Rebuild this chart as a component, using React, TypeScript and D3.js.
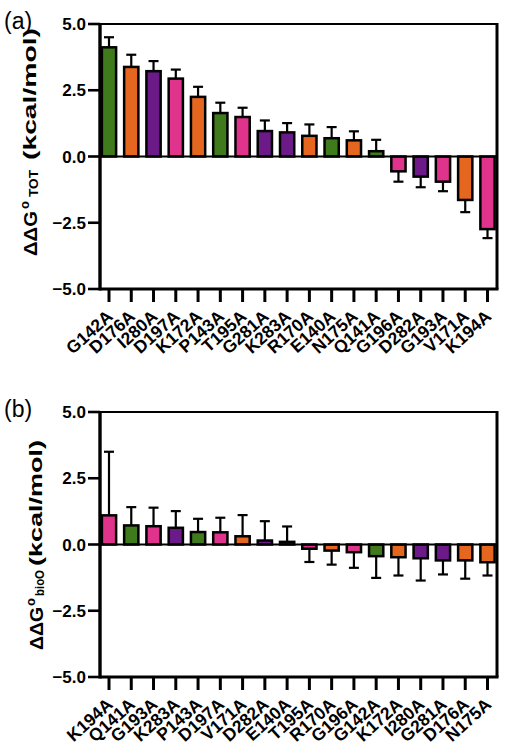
import React from "react";
import * as d3 from "d3";

const GREEN = "#3f7a1c";
const ORANGE = "#e5661f";
const PURPLE = "#6b1a88";
const PINK = "#e0338b";

const colorOf: Record<string, string> = {
  G142A: GREEN, P143A: GREEN, E140A: GREEN, Q141A: GREEN,
  D176A: ORANGE, K172A: ORANGE, R170A: ORANGE, N175A: ORANGE, V171A: ORANGE,
  I280A: PURPLE, G281A: PURPLE, K283A: PURPLE, D282A: PURPLE,
  D197A: PINK, T195A: PINK, G196A: PINK, G193A: PINK, K194A: PINK,
};

const catsA = ["G142A","D176A","I280A","D197A","K172A","P143A","T195A","G281A","K283A","R170A","E140A","N175A","Q141A","G196A","D282A","G193A","V171A","K194A"];
const valsA = [4.12, 3.38, 3.22, 2.94, 2.25, 1.64, 1.49, 0.96, 0.91, 0.78, 0.69, 0.61, 0.2, -0.56, -0.76, -0.95, -1.64, -2.74];
const errsA = [0.38, 0.46, 0.38, 0.34, 0.38, 0.39, 0.35, 0.4, 0.35, 0.43, 0.42, 0.34, 0.43, 0.39, 0.4, 0.36, 0.46, 0.34];

const catsB = ["K194A","Q141A","G193A","K283A","P143A","D197A","V171A","D282A","E140A","T195A","R170A","G196A","G142A","K172A","I280A","G281A","D176A","N175A"];
const valsB = [1.1, 0.72, 0.69, 0.63, 0.47, 0.46, 0.31, 0.15, 0.1, -0.16, -0.23, -0.29, -0.44, -0.48, -0.52, -0.6, -0.6, -0.67];
const errsB = [2.4, 0.69, 0.7, 0.63, 0.5, 0.55, 0.8, 0.73, 0.58, 0.5, 0.53, 0.59, 0.82, 0.69, 0.84, 0.53, 0.69, 0.5];

const yTicks = [5.0, 2.5, 0.0, -2.5, -5.0];

const FONT = "Liberation Sans, Arial, sans-serif";

type TitleLayout = { bx: number; dg: [number, number]; deg: [number, number]; sub: [number, number]; unit: [number, number] };

function VText({ x, y0, y1, size, children, weight = "bold" }: any) {
  return (
    <g transform={`translate(${x},${y0}) rotate(-90)`}>
      <text x={0} y={0} fontFamily={FONT} fontWeight={weight} fontSize={size}
        textLength={y0 - y1} lengthAdjust="spacingAndGlyphs">{children}</text>
    </g>
  );
}

function Panel({ label, sub, cats, vals, errs, top, bottom, tl }: {
  label: string; sub: string; cats: string[]; vals: number[]; errs: number[]; top: number; bottom: number; tl: TitleLayout;
}) {
  const left = 100, right = 497;
  const x = d3.scalePoint<string>().domain(cats).range([109, 487.5]);
  const y = d3.scaleLinear().domain([-5, 5]).range([bottom, top]);
  const bw = x.step() * 0.64;
  const cap = 10;
  return (
    <g>
      <text x={4} y={top + 5} fontFamily={FONT} fontSize={23}>{label}</text>
      {cats.map((c, i) => {
        const v = vals[i];
        const y0 = y(0), y1 = y(v);
        const ye = y(v + Math.sign(v) * errs[i]);
        const cx = x(c) as number;
        return (
          <g key={c}>
            <line x1={cx} x2={cx} y1={y1} y2={ye} stroke="#000" strokeWidth={2.2} />
            <line x1={cx - cap / 2} x2={cx + cap / 2} y1={ye} y2={ye} stroke="#000" strokeWidth={2.2} />
            <rect x={cx - bw / 2} y={Math.min(y0, y1)} width={bw} height={Math.abs(y1 - y0)}
              fill={colorOf[c]} stroke="#000" strokeWidth={2.5} />
          </g>
        );
      })}
      <line x1={left} x2={right} y1={y(0)} y2={y(0)} stroke="#000" strokeWidth={1.8} />
      <line x1={left} x2={right} y1={top} y2={top} stroke="#000" strokeWidth={2.2} />
      <line x1={right} x2={right} y1={top - 1} y2={bottom} stroke="#000" strokeWidth={3} />
      <line x1={left} x2={right + 1.5} y1={bottom} y2={bottom} stroke="#000" strokeWidth={3.2} />
      <line x1={left} x2={left} y1={top - 1} y2={bottom + 1.6} stroke="#000" strokeWidth={3.4} />
      {yTicks.map((t) => (
        <g key={t}>
          <line x1={left - 12} x2={left} y1={y(t)} y2={y(t)} stroke="#000" strokeWidth={2.6} />
          <text x={left - 14} y={y(t)} dy="0.36em" textAnchor="end" fontFamily={FONT}
            fontWeight="bold" fontSize={17}>{d3.format(".1f")(t)}</text>
        </g>
      ))}
      {cats.map((c) => {
        const cx = x(c) as number;
        return (
          <g key={"t" + c}>
            <line x1={cx} x2={cx} y1={bottom} y2={bottom + 13} stroke="#000" strokeWidth={3} />
            <g transform={`translate(${cx + 5},${bottom + 29}) rotate(-42)`}>
              <text x={0} y={0} textAnchor="end" fontFamily={FONT} fontWeight="bold" fontSize={17.5}>{c}</text>
            </g>
          </g>
        );
      })}
      <VText x={tl.bx} y0={tl.dg[0]} y1={tl.dg[1]} size={18.5}>ΔΔG</VText>
      <VText x={tl.bx - 8} y0={tl.deg[0]} y1={tl.deg[1]} size={12}>o</VText>
      <VText x={tl.bx + 1} y0={tl.sub[0]} y1={tl.sub[1]} size={12}>{sub}</VText>
      <VText x={tl.bx - 1} y0={tl.unit[0]} y1={tl.unit[1]} size={18}>(kcal/mol)</VText>
    </g>
  );
}

const titleA: TitleLayout = { bx: 37, dg: [256, 211], deg: [209, 201], sub: [197, 170], unit: [160, 28] };
const titleB: TitleLayout = { bx: 43, dg: [650, 607], deg: [606, 598], sub: [596, 570], unit: [566, 440] };

export default function App() {
  return (
    <svg width={505} height={750} style={{ position: "absolute", left: 0, top: 0, background: "#fff" }}>
      <rect width={505} height={750} fill="#fff" />
      <Panel label="(a)" sub="TOT" cats={catsA} vals={valsA} errs={errsA} top={24} bottom={289} tl={titleA} />
      <Panel label="(b)" sub="bioO" cats={catsB} vals={valsB} errs={errsB} top={412} bottom={677} tl={titleB} />
    </svg>
  );
}
